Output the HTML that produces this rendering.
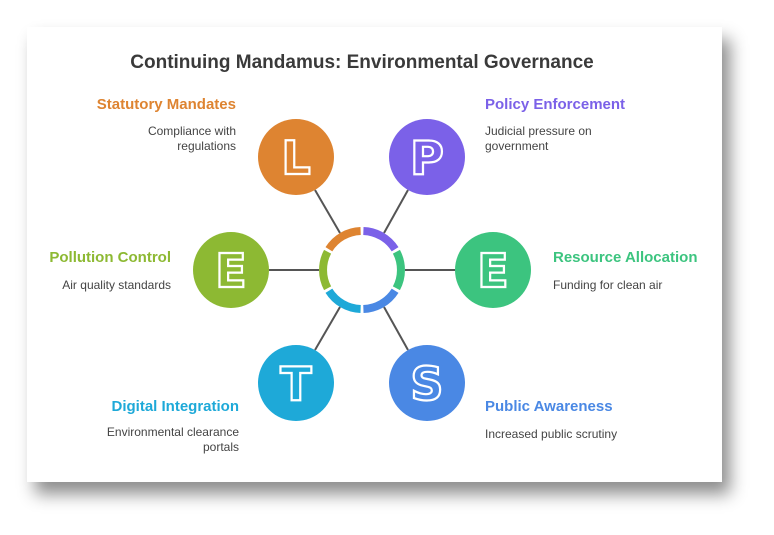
<!DOCTYPE html>
<html><head><meta charset="utf-8"><style>
html,body{margin:0;padding:0;background:#fff;width:774px;height:535px;overflow:hidden}
.card{position:absolute;left:27px;top:27px;width:695px;height:455px;background:#fff;box-shadow:8px 12px 16px rgba(0,0,0,0.45)}
svg{position:absolute;left:0;top:0}
text{font-family:"Liberation Sans",sans-serif}
.lt{font-family:"DejaVu Sans","Liberation Sans",sans-serif;font-weight:bold;font-size:46px;stroke:#fff;stroke-width:2.2px;paint-order:normal}
</style></head><body>
<div class="card"></div>
<svg width="774" height="535" viewBox="0 0 774 535">
<text x="362" y="68" text-anchor="middle" font-size="19" font-weight="bold" fill="#3a3a3a">Continuing Mandamus: Environmental Governance</text>
<g stroke="#555" stroke-width="2">
<line x1="315" y1="190" x2="340" y2="233"/>
<line x1="408" y1="190" x2="384" y2="233"/>
<line x1="315" y1="350" x2="340" y2="307"/>
<line x1="408" y1="350" x2="384" y2="307"/>
<line x1="269" y1="270" x2="319" y2="270"/>
<line x1="405" y1="270" x2="455" y2="270"/>
</g>
<g fill="none" stroke-width="8">
<path d="M328.9,249.3 A39,39 0 0 1 360.6,231" stroke="#DE8431"/>
<path d="M363.4,231 A39,39 0 0 1 395.1,249.3" stroke="#7B61E8"/>
<path d="M396.4,251.7 A39,39 0 0 1 396.4,288.3" stroke="#3CC47F"/>
<path d="M395.1,290.7 A39,39 0 0 1 363.4,309" stroke="#4A88E4"/>
<path d="M360.6,309 A39,39 0 0 1 328.9,290.7" stroke="#1EA9D8"/>
<path d="M327.6,288.3 A39,39 0 0 1 327.6,251.7" stroke="#8DB933"/>
</g>
<circle cx="296" cy="157" r="38" fill="#DE8431"/>
<circle cx="427" cy="157" r="38" fill="#7B61E8"/>
<circle cx="231" cy="270" r="38" fill="#8DB933"/>
<circle cx="493" cy="270" r="38" fill="#3CC47F"/>
<circle cx="296" cy="383" r="38" fill="#1EA9D8"/>
<circle cx="427" cy="383" r="38" fill="#4A88E4"/>
<text class="lt" x="296" y="174" text-anchor="middle" fill="#DE8431">L</text>
<text class="lt" x="427" y="174" text-anchor="middle" fill="#7B61E8">P</text>
<text class="lt" x="231" y="287" text-anchor="middle" fill="#8DB933">E</text>
<text class="lt" x="493" y="287" text-anchor="middle" fill="#3CC47F">E</text>
<text class="lt" x="296" y="400" text-anchor="middle" fill="#1EA9D8">T</text>
<text class="lt" x="427" y="400" text-anchor="middle" fill="#4A88E4">S</text>
<g font-size="15" font-weight="bold">
<text x="236" y="109" text-anchor="end" fill="#DE8431">Statutory Mandates</text>
<text x="485" y="109" fill="#7B61E8">Policy Enforcement</text>
<text x="171" y="262" text-anchor="end" fill="#8DB933">Pollution Control</text>
<text x="553" y="262" fill="#3CC47F">Resource Allocation</text>
<text x="239" y="411" text-anchor="end" fill="#1EA9D8">Digital Integration</text>
<text x="485" y="411" fill="#4A88E4">Public Awareness</text>
</g>
<g font-size="12" fill="#444">
<text x="236" y="135" text-anchor="end">Compliance with</text>
<text x="236" y="150" text-anchor="end">regulations</text>
<text x="485" y="135">Judicial pressure on</text>
<text x="485" y="150">government</text>
<text x="171" y="289" text-anchor="end">Air quality standards</text>
<text x="553" y="289">Funding for clean air</text>
<text x="239" y="436" text-anchor="end">Environmental clearance</text>
<text x="239" y="451" text-anchor="end">portals</text>
<text x="485" y="438">Increased public scrutiny</text>
</g>
</svg>
</body></html>
